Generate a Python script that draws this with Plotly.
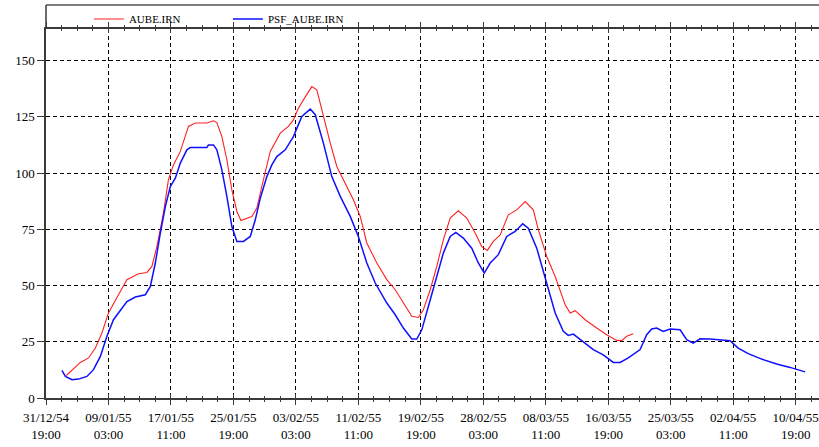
import plotly.graph_objects as go

# ---------------- data ----------------
red_name = "AUBE.IRN"
red_dates = [
    "1955-01-03 12:00", "1955-01-05 09:00", "1955-01-06 11:00", "1955-01-07 09:00",
    "1955-01-08 06:00", "1955-01-09 03:00", "1955-01-10 11:00", "1955-01-11 14:00",
    "1955-01-13 03:00", "1955-01-14 06:00", "1955-01-14 22:00", "1955-01-15 14:00",
    "1955-01-16 11:00", "1955-01-17 03:00", "1955-01-17 19:00", "1955-01-18 17:00",
    "1955-01-19 19:00", "1955-01-20 17:00", "1955-01-22 06:00", "1955-01-23 03:00",
    "1955-01-23 14:00", "1955-01-24 06:00", "1955-01-24 22:00", "1955-01-25 14:00",
    "1955-01-26 06:00", "1955-01-26 19:00", "1955-01-28 06:00", "1955-01-28 22:00",
    "1955-01-29 19:00", "1955-01-30 17:00", "1955-02-01 01:00", "1955-02-02 03:00",
    "1955-02-02 19:00", "1955-02-03 11:00", "1955-02-04 03:00", "1955-02-05 06:00",
    "1955-02-05 22:00", "1955-02-06 19:00", "1955-02-07 17:00", "1955-02-08 14:00",
    "1955-02-09 17:00", "1955-02-10 19:00", "1955-02-11 17:00", "1955-02-12 14:00",
    "1955-02-13 22:00", "1955-02-15 06:00", "1955-02-16 09:00", "1955-02-17 11:00",
    "1955-02-18 14:00", "1955-02-19 11:00", "1955-02-20 03:00", "1955-02-21 01:00",
    "1955-02-21 22:00", "1955-02-22 19:00", "1955-02-23 17:00", "1955-02-24 19:00",
    "1955-02-25 22:00", "1955-02-27 01:00", "1955-02-27 22:00", "1955-02-28 16:00",
    "1955-03-01 11:00", "1955-03-02 09:00", "1955-03-03 11:00", "1955-03-04 14:00",
    "1955-03-05 17:00", "1955-03-06 19:00", "1955-03-07 11:00", "1955-03-08 14:00",
    "1955-03-09 17:00", "1955-03-11 01:00", "1955-03-11 17:00", "1955-03-12 09:00",
    "1955-03-13 17:00", "1955-03-15 06:00", "1955-03-16 14:00", "1955-03-17 22:00",
    "1955-03-18 14:00", "1955-03-19 06:00", "1955-03-20 03:00",
]
red_values = [
    10.0, 15.8, 17.8, 22.2, 28.9, 37.8, 45.9, 52.6,
    55.2, 55.8, 58.5, 67.3, 82.2, 97.0, 103.6, 109.6,
    120.7, 122.2, 122.2, 123.2, 122.4, 116.2, 105.9, 92.5,
    82.9, 78.9, 80.7, 84.4, 97.0, 109.6, 117.7, 120.7,
    123.6, 128.8, 132.5, 138.4, 137.0, 125.1, 113.3, 102.9,
    95.5, 88.1, 80.7, 68.9, 60.0, 52.6, 48.1, 42.2,
    36.3, 35.8, 39.2, 48.1, 58.5, 70.3, 80.0, 83.2,
    80.0, 73.3, 67.3, 65.6, 69.6, 72.5, 81.4, 83.6,
    87.3, 83.6, 74.8, 62.9, 54.0, 41.4, 37.8, 38.8,
    34.8, 31.1, 28.1, 25.6, 25.5, 27.4, 28.6,
]

blue_name = "PSF_AUBE.IRN"
blue_dates = [
    "1955-01-02 22:00", "1955-01-03 09:00", "1955-01-04 06:00", "1955-01-05 03:00",
    "1955-01-06 06:00", "1955-01-07 03:00", "1955-01-08 01:00", "1955-01-08 22:00",
    "1955-01-09 19:00", "1955-01-10 17:00", "1955-01-11 14:00", "1955-01-12 17:00",
    "1955-01-14 01:00", "1955-01-14 17:00", "1955-01-15 09:00", "1955-01-16 01:00",
    "1955-01-16 17:00", "1955-01-17 09:00", "1955-01-18 01:00", "1955-01-18 17:00",
    "1955-01-19 14:00", "1955-01-20 01:00", "1955-01-22 06:00", "1955-01-22 11:00",
    "1955-01-23 03:00", "1955-01-23 14:00", "1955-01-24 06:00", "1955-01-24 22:00",
    "1955-01-25 14:00", "1955-01-26 06:00", "1955-01-27 03:00", "1955-01-28 01:00",
    "1955-01-28 17:00", "1955-01-29 09:00", "1955-01-30 06:00", "1955-01-30 22:00",
    "1955-01-31 14:00", "1955-02-01 17:00", "1955-02-02 19:00", "1955-02-03 22:00",
    "1955-02-05 01:00", "1955-02-05 17:00", "1955-02-06 19:00", "1955-02-07 22:00",
    "1955-02-09 01:00", "1955-02-10 09:00", "1955-02-11 11:00", "1955-02-12 14:00",
    "1955-02-13 17:00", "1955-02-15 06:00", "1955-02-16 09:00", "1955-02-17 11:00",
    "1955-02-18 14:00", "1955-02-19 06:00", "1955-02-19 22:00", "1955-02-20 19:00",
    "1955-02-21 17:00", "1955-02-22 19:00", "1955-02-23 17:00", "1955-02-24 11:00",
    "1955-02-25 11:00", "1955-02-26 14:00", "1955-02-27 11:00", "1955-02-28 06:00",
    "1955-03-01 01:00", "1955-03-02 03:00", "1955-03-03 06:00", "1955-03-04 09:00",
    "1955-03-05 09:00", "1955-03-06 03:00", "1955-03-07 06:00", "1955-03-07 17:00",
    "1955-03-08 14:00", "1955-03-09 17:00", "1955-03-10 19:00", "1955-03-11 11:00",
    "1955-03-12 03:00", "1955-03-13 11:00", "1955-03-14 19:00", "1955-03-16 03:00",
    "1955-03-17 11:00", "1955-03-18 09:00", "1955-03-19 11:00", "1955-03-21 01:00",
    "1955-03-21 22:00", "1955-03-22 14:00", "1955-03-23 06:00", "1955-03-24 03:00",
    "1955-03-25 01:00", "1955-03-26 09:00", "1955-03-27 06:00", "1955-03-28 03:00",
    "1955-03-29 01:00", "1955-03-30 09:00", "1955-03-31 22:00", "1955-04-02 01:00",
    "1955-04-03 03:00", "1955-04-04 11:00", "1955-04-06 06:00", "1955-04-08 06:00",
    "1955-04-10 01:00", "1955-04-12 01:00",
]
blue_values = [
    12.3, 9.6, 8.1, 8.4, 9.6, 12.6, 18.5, 27.4,
    34.8, 39.2, 42.9, 44.9, 45.9, 49.6, 60.0, 73.3,
    85.1, 94.0, 97.7, 104.4, 110.3, 111.3, 111.3, 112.5,
    112.5, 110.3, 101.4, 89.6, 76.2, 69.6, 69.6, 71.8,
    79.2, 88.8, 98.4, 103.6, 107.3, 110.3, 116.2, 125.1,
    128.4, 125.9, 113.3, 98.4, 89.6, 80.7, 71.8, 60.0,
    51.1, 42.2, 37.0, 31.1, 26.2, 26.2, 30.3, 40.7,
    51.8, 64.4, 71.8, 73.6, 71.1, 66.6, 60.0, 55.5,
    60.0, 63.7, 71.8, 74.0, 77.4, 75.5, 66.6, 61.4,
    51.1, 37.8, 29.6, 27.8, 28.4, 24.9, 21.5, 19.2,
    15.8, 15.8, 17.8, 21.5, 28.1, 30.7, 31.1, 29.6,
    30.7, 30.3, 25.9, 24.4, 26.3, 26.2, 25.9, 25.5,
    22.2, 19.7, 17.3, 15.1, 13.6, 11.6,
]

x_start = "1954-12-31 19:00"
x_end = "1955-04-13 21:36"
major_step_ms = 200 * 3600 * 1000
minor_step_ms = 50 * 3600 * 1000
y_ticks = [0, 25, 50, 75, 100, 125, 150]
y_max = 164

# ---------------- figure ----------------
FONT = "Liberation Serif, Times New Roman, serif"
AX = "#3a3a3a"

fig = go.Figure()
fig.add_trace(go.Scatter(x=red_dates, y=red_values, name=red_name, mode="lines",
                         line=dict(color="#ff2020", width=1.1)))
fig.add_trace(go.Scatter(x=blue_dates, y=blue_values, name=blue_name, mode="lines",
                         line=dict(color="#1010ff", width=1.5)))
# invisible trace on the overlay axis so that its inward ticks are drawn
fig.add_trace(go.Scatter(x=[x_start], y=[0], xaxis="x2", mode="markers",
                         marker=dict(opacity=0), showlegend=False, hoverinfo="skip"))

fig.update_layout(
    width=819, height=447,
    margin=dict(l=46, r=0, t=29, b=49, autoexpand=False),
    paper_bgcolor="white", plot_bgcolor="white",
    font=dict(family=FONT, size=13, color="black"),
    showlegend=True,
    legend=dict(orientation="h", x=0.0555, xanchor="left", y=1.027, yanchor="middle",
                font=dict(family=FONT, size=11, color="black"),
                bgcolor="rgba(0,0,0,0)", entrywidth=94, entrywidthmode="pixels"),
    xaxis=dict(
        type="date", range=[x_start, x_end],
        tick0=x_start, dtick=major_step_ms, tickformat="%d/%m/%y<br>%H:%M",
        ticks="outside", ticklen=5, tickwidth=1.2, tickcolor=AX,
        showline=True, linecolor=AX, linewidth=1.5, mirror="ticks",
        showgrid=True, gridcolor="black", gridwidth=1, griddash="4px,3px",
        zeroline=False, tickfont=dict(family=FONT, size=13, color="black"),
        ticklabelstandoff=2,
        minor=dict(tick0=x_start, dtick=minor_step_ms, ticks="outside", ticklen=2,
                   tickwidth=1.2, tickcolor=AX, showgrid=False),
    ),
    xaxis2=dict(
        type="date", range=[x_start, x_end], overlaying="x", side="bottom",
        tick0=x_start, dtick=major_step_ms, showticklabels=False,
        ticks="inside", ticklen=4, tickwidth=1.2, tickcolor=AX,
        showline=False, mirror="ticks", showgrid=False, zeroline=False,
        minor=dict(tick0=x_start, dtick=minor_step_ms, ticks="inside", ticklen=2,
                   tickwidth=1.2, tickcolor=AX, showgrid=False),
    ),
    yaxis=dict(
        range=[0, y_max], tickvals=y_ticks,
        ticks="outside", ticklen=7, tickwidth=1.2, tickcolor=AX,
        showline=True, linecolor=AX, linewidth=1.5, mirror=False,
        showgrid=True, gridcolor="black", gridwidth=1, griddash="4px,3px",
        zeroline=False, tickfont=dict(family=FONT, size=13, color="black"),
    ),
)

# outer frame above the plot (legend strip)
fig.add_shape(type="line", xref="paper", yref="paper", x0=0, x1=1.01, y0=1.065, y1=1.065,
              line=dict(color="#555555", width=1.5))
fig.add_shape(type="line", xref="paper", yref="paper", x0=0, x1=0, y0=1.0, y1=1.065,
              line=dict(color=AX, width=1.5))

fig.write_html("out.html", config={"displayModeBar": False},
               post_script="document.body.style.margin='0px';")
